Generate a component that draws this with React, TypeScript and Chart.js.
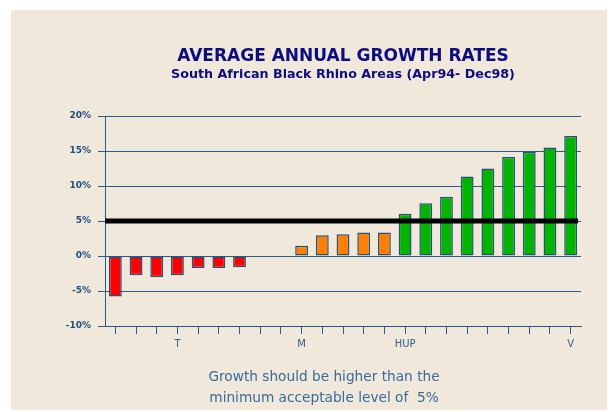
import React, { useEffect, useRef } from "react";
import { Chart, registerables } from "chart.js";

Chart.register(...registerables);

const titleText = "AVERAGE ANNUAL GROWTH RATES";
const subtitleText = "South African Black Rhino Areas (Apr94- Dec98)";
const noteLines = ["Growth should be higher than the", "minimum acceptable level of  5%"];

const categories = ["", "", "", "T", "", "", "", "", "", "M", "", "", "", "", "HUP", "", "", "", "", "", "", "", "V"];
const decliningRates = [-5.8, -2.75, -3.05, -2.75, -1.7, -1.7, -1.6];
const gapSlots = [null, null];
const lowRates = [1.45, 2.95, 3.1, 3.35, 3.35];
const goodRates = [6.05, 7.55, 8.45, 11.35, 12.5, 14.15, 14.9, 15.5, 17.15];
const minimumRate = 5;
const yMin = -10;
const yMax = 20;
const yStep = 5;

const RED = "#FF0000";
const ORANGE = "#FF8000";
const GREEN = "#00B400";
const GRID = "#2B5B8C";
const FONT = "DejaVu Sans";

const thresholdPlugin = {
  id: "thresholdLine",
  afterDatasetsDraw(chart: any) {
    const { ctx, chartArea, scales } = chart;
    const y = scales.y.getPixelForValue(minimumRate);
    ctx.save();
    ctx.strokeStyle = "#000000";
    ctx.lineWidth = 5;
    ctx.beginPath();
    ctx.moveTo(chartArea.left, y);
    ctx.lineTo(chartArea.right - 3, y);
    ctx.stroke();
    ctx.restore();
  },
};

export default function App() {
  const canvasRef = useRef<HTMLCanvasElement | null>(null);

  useEffect(() => {
    const values = [...decliningRates, ...gapSlots, ...lowRates, ...goodRates];
    const colors = [
      ...decliningRates.map(() => RED),
      ...gapSlots.map(() => "rgba(0,0,0,0)"),
      ...lowRates.map(() => ORANGE),
      ...goodRates.map(() => GREEN),
    ];
    const chart = new Chart(canvasRef.current as HTMLCanvasElement, {
      type: "bar",
      data: {
        labels: categories,
        datasets: [
          {
            data: values,
            backgroundColor: colors,
            borderColor: "#24507D",
            borderWidth: 1.5,
            borderSkipped: false,
            barPercentage: 0.62,
            categoryPercentage: 1,
          },
        ],
      },
      options: {
        responsive: false,
        animation: false,
        devicePixelRatio: 1,
        layout: { padding: { left: 57, right: 34, top: 0, bottom: 56 } },
        plugins: {
          legend: { display: false },
          tooltip: { enabled: false },
          title: {
            display: true,
            text: titleText,
            color: "#0D0D80",
            fullSize: false,
            font: { family: FONT, size: 17, weight: "bold", lineHeight: 1.2 },
            padding: { top: 38, bottom: 0 },
          },
          subtitle: {
            display: true,
            text: subtitleText,
            color: "#0D0D80",
            fullSize: false,
            font: { family: FONT, size: 12.7, weight: "bold", lineHeight: 1.2 },
            padding: { top: 1, bottom: 33.4 },
          },
        },
        scales: {
          x: {
            grid: {
              display: true,
              drawOnChartArea: false,
              drawTicks: true,
              tickLength: 8,
              offset: false,
              color: GRID,
              lineWidth: 1,
            },
            border: { display: true, color: GRID, width: 1 },
            ticks: {
              autoSkip: false,
              maxRotation: 0,
              minRotation: 0,
              padding: 4,
              color: "#2E6094",
              font: { family: FONT, size: 10 },
            },
            afterFit: (s: any) => {
              s.height = 30;
            },
          },
          y: {
            min: yMin,
            max: yMax,
            ticks: {
              stepSize: yStep,
              callback: (v: any) => v + "%",
              color: "#1F4F80",
              font: { family: FONT, size: 9, weight: "bold" },
              padding: 7,
            },
            grid: { color: GRID, lineWidth: 1, tickLength: 7, drawTicks: true },
            border: { display: true, color: GRID, width: 1 },
            afterFit: (s: any) => {
              s.width = 40;
            },
          },
        },
      },
      plugins: [thresholdPlugin],
    } as any);
    return () => chart.destroy();
  }, []);

  return (
    <div style={{ position: "relative", width: 607, height: 404 }}>
      <div
        style={{
          position: "absolute",
          left: 3,
          top: 2,
          width: 604,
          height: 400,
          background: "#EFE8DB",
        }}
      />
      <canvas
        ref={canvasRef}
        width={607}
        height={404}
        style={{ position: "absolute", left: 0, top: 0 }}
      />
      <div
        style={{
          position: "absolute",
          left: 116,
          top: 357.5,
          width: 400,
          textAlign: "center",
          whiteSpace: "pre",
          fontFamily: FONT,
          fontSize: 13.7,
          lineHeight: "21px",
          color: "#3A6A9C",
        }}
      >
        {noteLines.join("\n")}
      </div>
    </div>
  );
}
